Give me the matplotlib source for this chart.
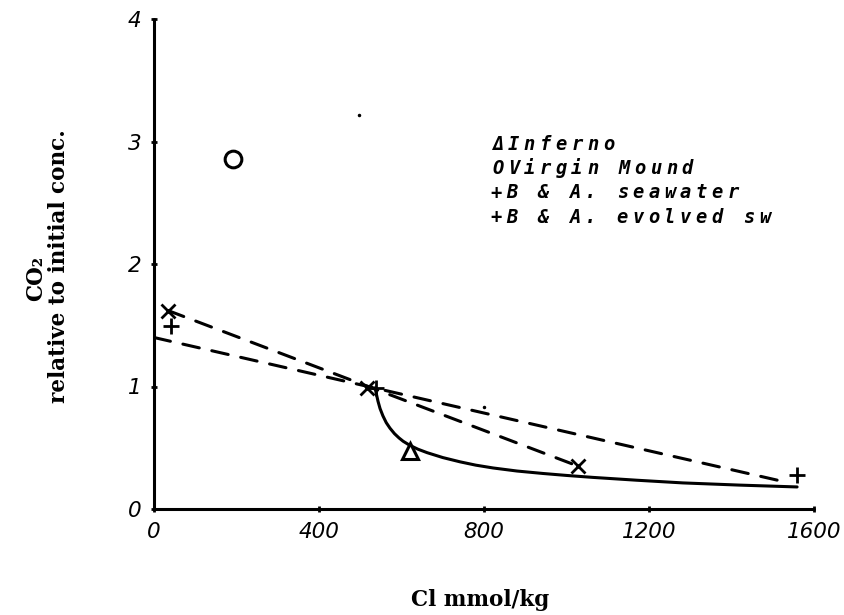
import matplotlib
matplotlib.use("Agg")
import matplotlib.pyplot as plt

# --- data -------------------------------------------------------------
inferno_x = [620]
inferno_y = [0.47]

virgin_x = [192]
virgin_y = [2.86]

# B & A evolved seawater (x marks) and seawater (+ marks)
evolved_x = [34, 516, 1028]
evolved_y = [1.62, 0.99, 0.35]
seawater_x = [41, 538, 1559]
seawater_y = [1.49, 0.99, 0.28]

# dashed mixing lines
evolved_line_x = [34, 1028]
evolved_line_y = [1.62, 0.35]
seawater_line_x = [0, 1518]
seawater_line_y = [1.40, 0.23]

# solid curve
curve_x = [536, 539, 543, 548, 555, 563, 572, 583, 594, 604, 620, 640, 662,
           700, 742, 780, 822, 880, 943, 1000, 1064, 1170, 1282, 1420, 1559]
curve_y = [0.99, 0.94, 0.88, 0.82, 0.76, 0.705, 0.66, 0.615, 0.58, 0.553,
           0.52, 0.488, 0.46, 0.42, 0.385, 0.358, 0.335, 0.31, 0.29, 0.274,
           0.258, 0.235, 0.213, 0.195, 0.18]

# small specks on the sheet
speck_x = [497, 800]
speck_y = [3.22, 0.83]

x_ticks = [0, 400, 800, 1200, 1600]
y_ticks = [0, 1, 2, 3, 4]

legend_lines = ["\u0394Inferno", "OVirgin Mound", "+B & A. seawater",
                "+B & A. evolved sw"]

# --- figure -----------------------------------------------------------
W, H = 845, 615
fig = plt.figure(figsize=(W / 100, H / 100), dpi=100)
ax = fig.add_axes([154 / W, (H - 509) / H, 660 / W, 490 / H])
ax.set_xlim(0, 1600)
ax.set_ylim(0, 4)

for s in ("top", "right"):
    ax.spines[s].set_visible(False)
for s in ("left", "bottom"):
    ax.spines[s].set_linewidth(2.2)
    ax.spines[s].set_capstyle("round")

tick_font = dict(family="DejaVu Sans", style="italic", size=15.5)
ax.set_xticks(x_ticks)
ax.set_yticks(y_ticks)
ax.set_xticklabels([str(v) for v in x_ticks], **tick_font)
ax.set_yticklabels([str(v) for v in y_ticks], **tick_font)
ax.tick_params(axis="both", direction="inout", length=4, width=2, pad=7)

lw = 2.2
dash = (5.5, 4.2)
l1, = ax.plot(evolved_line_x, evolved_line_y, color="black", lw=lw,
              dash_capstyle="round")
l1.set_dashes(dash)
l2, = ax.plot(seawater_line_x, seawater_line_y, color="black", lw=lw,
              dash_capstyle="round")
l2.set_dashes(dash)
ax.plot(curve_x, curve_y, color="black", lw=lw, solid_capstyle="round",
        solid_joinstyle="round")

ax.plot(evolved_x, evolved_y, "x", color="black", ms=10, mew=2)
ax.plot(seawater_x, seawater_y, "+", color="black", ms=12, mew=2)
ax.plot(inferno_x, inferno_y, "^", mfc="white", mec="black", ms=11, mew=2.2)
ax.plot(virgin_x, virgin_y, "o", mfc="none", mec="black", ms=12, mew=2.2)
ax.plot(speck_x, speck_y, ".", color="black", ms=3)

# legend text in a fixed-pitch plotter style
legend_font = dict(family="DejaVu Sans Mono", weight="bold", style="oblique",
                   size=13.5)
legend_rows = [(490, 145), (490, 168), (488, 193), (488, 217)]
pitch = 15.8
for text, (x0, yc) in zip(legend_lines, legend_rows):
    for i, ch in enumerate(text):
        fig.text((x0 + pitch * i + pitch / 2) / W, (H - yc) / H, ch,
                 ha="center", va="center", **legend_font)

# axis titles
label_font = dict(family="DejaVu Serif", weight="bold", size=15.5)
fig.text(480 / W, (H - 600) / H, "Cl mmol/kg", ha="center", va="center",
         **label_font)
fig.text(36 / W, (H - 278) / H, "CO\u2082", ha="center", va="center",
         rotation=90, **label_font)
fig.text(59 / W, (H - 266) / H, "relative to initial conc.", ha="center",
         va="center", rotation=90, **label_font)

fig.savefig("out.png", dpi=100)
